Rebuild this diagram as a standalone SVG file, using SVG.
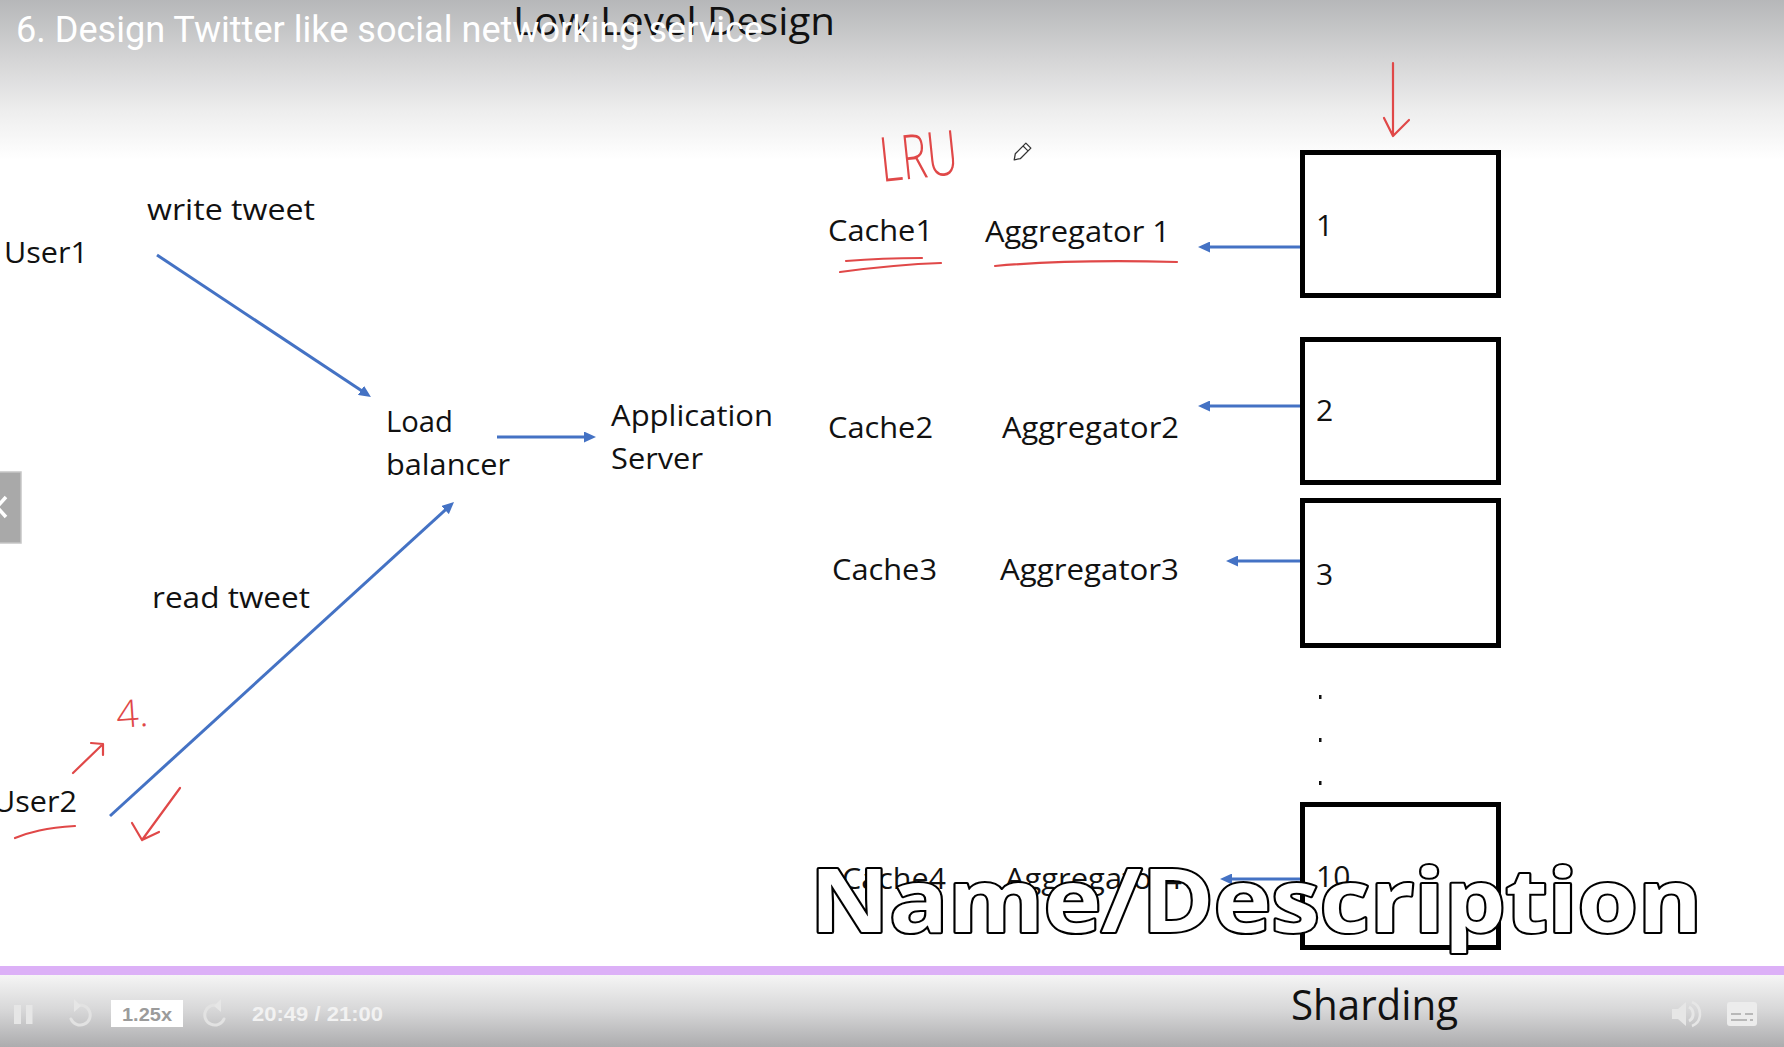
<svg xmlns="http://www.w3.org/2000/svg" width="1784" height="1047" viewBox="0 0 1784 1047">
<defs>
<linearGradient id="topg" x1="0" y1="0" x2="0" y2="1">
<stop offset="0" stop-color="#b6b7b9"/>
<stop offset="0.35" stop-color="#d3d3d4"/>
<stop offset="0.7" stop-color="#eeeeee"/>
<stop offset="1" stop-color="#ffffff"/>
</linearGradient>
<linearGradient id="barg" x1="0" y1="0" x2="0" y2="1">
<stop offset="0" stop-color="#f5f5f5"/>
<stop offset="0.5" stop-color="#d6d6d7"/>
<stop offset="1" stop-color="#acacae"/>
</linearGradient>
<marker id="ab" markerWidth="12" markerHeight="11" refX="4" refY="5.5" orient="auto" markerUnits="userSpaceOnUse">
<path d="M0,0 L12,5.5 L0,11 z" fill="#4472c4"/>
</marker>
<style>
.t{font-family:"Open Sans","Noto Sans",sans-serif;font-size:30px;fill:#111}
.bx{fill:none;stroke:#000;stroke-width:5}
.bl{stroke:#4472c4;stroke-width:3;fill:none;marker-end:url(#ab)}
.rd{stroke:#e04848;stroke-width:2.2;fill:none;stroke-linecap:round;stroke-linejoin:round}
.rt{font-family:"Open Sans","Noto Sans",sans-serif;font-weight:300;fill:#e04848}
.ic{fill:#e6e6e6}
.ics{fill:none;stroke:#e2e2e2;stroke-width:3;stroke-linecap:round}
</style>
</defs>
<rect width="1784" height="1047" fill="#ffffff"/>
<rect width="1784" height="160" fill="url(#topg)"/>

<g id="slide-title">
<text x="513" y="35" class="t" style="font-size:39px" textLength="322" lengthAdjust="spacingAndGlyphs">Low Level Design</text>
</g>
<g id="video-title">
<text x="16" y="42" font-family="Roboto,'Liberation Sans',sans-serif" font-size="37" fill="#ffffff" textLength="747" lengthAdjust="spacingAndGlyphs">6. Design Twitter like social networking service</text>
</g>

<g id="user1"><text x="4" y="263" class="t" textLength="84" lengthAdjust="spacingAndGlyphs">User1</text></g>
<g id="user2"><text x="-7" y="812" class="t" textLength="84" lengthAdjust="spacingAndGlyphs">User2</text></g>
<g id="load-balancer">
<text x="386" y="432" class="t" textLength="67" lengthAdjust="spacingAndGlyphs">Load</text>
<text x="386" y="475" class="t" textLength="124" lengthAdjust="spacingAndGlyphs">balancer</text>
</g>
<g id="app-server">
<text x="611" y="426" class="t" textLength="162" lengthAdjust="spacingAndGlyphs">Application</text>
<text x="611" y="469" class="t" textLength="92" lengthAdjust="spacingAndGlyphs">Server</text>
</g>

<g id="cache1"><text x="828" y="241" class="t" textLength="105" lengthAdjust="spacingAndGlyphs">Cache1</text></g>
<g id="aggregator1"><text x="985" y="242" class="t" textLength="185" lengthAdjust="spacingAndGlyphs">Aggregator 1</text></g>
<g id="cache2"><text x="828" y="438" class="t" textLength="105" lengthAdjust="spacingAndGlyphs">Cache2</text></g>
<g id="aggregator2"><text x="1002" y="438" class="t" textLength="177" lengthAdjust="spacingAndGlyphs">Aggregator2</text></g>
<g id="cache3"><text x="832" y="580" class="t" textLength="105" lengthAdjust="spacingAndGlyphs">Cache3</text></g>
<g id="aggregator3"><text x="1000" y="580" class="t" textLength="179" lengthAdjust="spacingAndGlyphs">Aggregator3</text></g>
<g id="cache4"><text x="842" y="889" class="t" textLength="104" lengthAdjust="spacingAndGlyphs">Cache4</text></g>
<g id="aggregator4"><text x="1005" y="889" class="t" textLength="177" lengthAdjust="spacingAndGlyphs">Aggregator4</text></g>

<g id="shard1"><rect x="1302.5" y="152.5" width="196" height="143" class="bx"/><text x="1316" y="236" class="t">1</text></g>
<g id="shard2"><rect x="1302.5" y="339.5" width="196" height="143" class="bx"/><text x="1316" y="421" class="t">2</text></g>
<g id="shard3"><rect x="1302.5" y="500.5" width="196" height="145" class="bx"/><text x="1316" y="585" class="t">3</text></g>
<g id="ellipsis">
<rect x="1319" y="695" width="2.5" height="4" fill="#111"/>
<rect x="1319" y="738" width="2.5" height="4" fill="#111"/>
<rect x="1319" y="781" width="2.5" height="4" fill="#111"/>
</g>
<g id="shard10"><rect x="1302.5" y="804.5" width="196" height="143" class="bx"/><text x="1316" y="887" class="t">10</text></g>

<g id="labels">
<text x="147" y="220" class="t" textLength="168" lengthAdjust="spacingAndGlyphs">write tweet</text>
<text x="152" y="608" class="t" textLength="158" lengthAdjust="spacingAndGlyphs">read tweet</text>
</g>

<g id="connectors">
<line x1="157" y1="255" x2="364.3" y2="392.6" class="bl"/>
<line x1="497" y1="437" x2="588" y2="437" class="bl"/>
<line x1="110" y1="816" x2="448.1" y2="507.4" class="bl"/>
<line x1="1300" y1="247" x2="1206" y2="247" class="bl"/>
<line x1="1300" y1="406" x2="1206" y2="406" class="bl"/>
<line x1="1300" y1="561" x2="1234" y2="561" class="bl"/>
<line x1="1300" y1="879" x2="1228" y2="879" class="bl"/>
</g>

<g id="annotations">
<text x="882" y="182" class="rt" font-size="62" textLength="78" lengthAdjust="spacingAndGlyphs" transform="rotate(-6 882 182)">LRU</text>
<path class="rd" d="M846,261 C870,259 900,258 922,258"/>
<path class="rd" d="M840,272 C870,268 910,264 941,263"/>
<path class="rd" d="M995,266 C1040,262 1100,260 1177,262"/>
<path class="rd" d="M1393,63 L1393,135 M1384,118 L1393,136 L1409,120"/>
<path class="rd" d="M15,838 C30,832 45,828 75,826"/>
<path class="rd" d="M73,773 L103,744 M91,743 L103,744 L103,755"/>
<text x="117" y="728" class="rt" font-size="38" textLength="32" lengthAdjust="spacingAndGlyphs" transform="rotate(-4 117 728)">4.</text>
<path class="rd" d="M180,788 L142,840 M132,823 L142,840 L159,832"/>
<g transform="translate(1022,152) rotate(-45)">
<path d="M-11,0 L-6,-3.5 L9,-3.5 L9,3.5 L-6,3.5 Z" fill="#ffffff" stroke="#333" stroke-width="1.3" stroke-linejoin="round"/>
<path d="M5,-3.5 L5,3.5" stroke="#333" stroke-width="1.1"/>
</g>
</g>

<g id="caption-overlay">
<text x="810" y="932" font-family="'Open Sans','Noto Sans',sans-serif" font-weight="700" font-size="88" fill="#ffffff" stroke="#000" stroke-width="4" paint-order="stroke" stroke-linejoin="round" textLength="892" lengthAdjust="spacingAndGlyphs">Name/Description</text>
</g>

<g id="side-tab">
<rect x="-2" y="472" width="23" height="71" fill="#a9a9a9" stroke="#c6c6c6" stroke-width="1.5"/>
<polyline points="6,497 -3,507 6,517" fill="none" stroke="#ffffff" stroke-width="3.5"/>
</g>

<g id="player-bar">
<rect x="0" y="966" width="1784" height="9" fill="#dcb0f7"/>
<rect x="0" y="975" width="1784" height="72" fill="url(#barg)"/>
<rect x="14" y="1005" width="7" height="19" class="ic"/>
<rect x="26" y="1005" width="6.5" height="19" class="ic"/>
<path class="ics" d="M76,1006 A10,10 0 1 1 71,1019"/>
<path d="M74,999 L81,1006 L74,1012 Z" class="ic"/>
<rect x="111" y="1000" width="72" height="27" fill="#ffffff"/>
<text x="122" y="1021" font-family="'Liberation Sans',Arial,sans-serif" font-weight="700" font-size="18" fill="#9b9b9b" textLength="50" lengthAdjust="spacingAndGlyphs">1.25x</text>
<path class="ics" d="M219,1006 A10,10 0 1 0 224,1019"/>
<path d="M221,999 L214,1006 L221,1012 Z" class="ic"/>
<text x="252" y="1021" font-family="'Liberation Sans',Arial,sans-serif" font-weight="700" font-size="20" fill="#f2f2f2" textLength="131" lengthAdjust="spacingAndGlyphs">20:49 / 21:00</text>
<text x="1291" y="1020" class="t" style="font-size:42px" textLength="167" lengthAdjust="spacingAndGlyphs">Sharding</text>
<path d="M1672,1009 L1678,1009 L1686,1002 L1686,1026 L1678,1019 L1672,1019 Z" class="ic"/>
<path d="M1689,1007 A8,8 0 0 1 1689,1021" fill="none" stroke="#e6e6e6" stroke-width="3"/>
<path d="M1692,1002 A13,13 0 0 1 1692,1026" fill="none" stroke="#e6e6e6" stroke-width="2.5"/>
<rect x="1727" y="1002" width="30" height="24" rx="3" fill="#ececec"/>
<path d="M1731,1014 H1741 M1745,1014 H1753 M1731,1020 H1747 M1750,1020 H1753" stroke="#b8b8b8" stroke-width="2"/>
</g>
</svg>
